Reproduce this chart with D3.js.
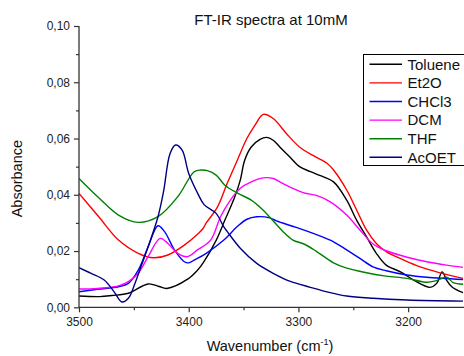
<!DOCTYPE html>
<html>
<head>
<meta charset="utf-8">
<script src="https://cdn.jsdelivr.net/npm/d3@7"></script>
<style>
  html, body { margin: 0; padding: 0; background: #fff; }
  svg { display: block; font-family: "Liberation Sans", Arial, sans-serif; }
</style>
</head>
<body>
<svg id="chart" width="464" height="356"></svg>
<script>
// ---------- data (wavenumber cm-1, absorbance) ----------
const seriesNames = ["Toluene", "Et2O", "CHCl3", "DCM", "THF", "AcOET"];
const seriesColors = ["#000000", "#ff0000", "#0000ff", "#ff00ff", "#008000", "#000080"];

const tolueneW = [3500,3481,3470,3455,3437,3427,3420,3401,3392,3387,3375,3367,3358,3353,3349,3343,3335,3329,3323,3317,3308,3299,3289,3280,3268,3256,3247,3238,3229,3220,3207,3195,3180,3174,3169,3165,3160,3150];
const tolueneA = [0.0040,0.0038,0.0042,0.0050,0.0083,0.0074,0.0067,0.0100,0.0132,0.0157,0.0238,0.0310,0.0393,0.0452,0.0523,0.0570,0.0597,0.0604,0.0594,0.0570,0.0535,0.0500,0.0482,0.0468,0.0446,0.0381,0.0310,0.0251,0.0192,0.0150,0.0126,0.0097,0.0071,0.0085,0.0126,0.0097,0.0072,0.0052];

const et2oW = [3500,3482,3464,3446,3432,3419,3404,3391,3387,3384,3374,3365,3356,3347,3340,3332,3323,3311,3299,3286,3274,3268,3256,3247,3238,3229,3220,3204,3189,3174,3159,3150];
const et2oA = [0.0405,0.0322,0.0239,0.0192,0.0176,0.0186,0.0221,0.0263,0.0280,0.0300,0.0355,0.0440,0.0520,0.0600,0.0645,0.0686,0.0671,0.0618,0.0570,0.0538,0.0512,0.0488,0.0417,0.0346,0.0275,0.0227,0.0198,0.0168,0.0144,0.0126,0.0111,0.0103];

const chcl3W = [3500,3483,3464,3455,3446,3437,3428,3422,3413,3404,3400,3395,3384,3368,3356,3347,3338,3326,3320,3302,3280,3268,3256,3244,3232,3220,3201,3183,3150];
const chcl3A = [0.0055,0.0064,0.0073,0.0085,0.0132,0.0215,0.0290,0.0269,0.0204,0.0162,0.0158,0.0168,0.0192,0.0239,0.0286,0.0313,0.0322,0.0318,0.0307,0.0284,0.0253,0.0233,0.0204,0.0174,0.0144,0.0130,0.0115,0.0107,0.0099];

const dcmW = [3500,3483,3464,3455,3446,3437,3426,3419,3410,3401,3392,3380,3371,3362,3353,3343,3332,3323,3317,3305,3295,3283,3271,3256,3244,3232,3220,3201,3183,3165,3150];
const dcmA = [0.0065,0.0067,0.0076,0.0091,0.0121,0.0180,0.0245,0.0227,0.0192,0.0180,0.0204,0.0239,0.0322,0.0381,0.0423,0.0446,0.0460,0.0458,0.0446,0.0423,0.0407,0.0397,0.0375,0.0328,0.0275,0.0225,0.0201,0.0178,0.0162,0.0150,0.0142];

const thfW = [3500,3483,3464,3446,3428,3410,3395,3389,3383,3375,3367,3355,3343,3334,3325,3314,3305,3295,3284,3268,3256,3238,3220,3201,3183,3174,3165,3159,3150];
const thfA = [0.0458,0.0393,0.0328,0.0302,0.0322,0.0393,0.0482,0.0488,0.0486,0.0470,0.0434,0.0405,0.0381,0.0352,0.0316,0.0269,0.0239,0.0225,0.0200,0.0158,0.0139,0.0123,0.0111,0.0103,0.0089,0.0095,0.0107,0.0088,0.0082];

const acoetW = [3500,3489,3477,3468,3461,3455,3449,3443,3437,3428,3423,3417,3412,3406,3400,3391,3386,3375,3368,3365,3353,3338,3323,3308,3289,3271,3256,3232,3201,3150];
const acoetA = [0.0141,0.0121,0.0097,0.0055,0.0019,0.0032,0.0085,0.0150,0.0215,0.0322,0.0410,0.0547,0.0577,0.0559,0.0476,0.0399,0.0365,0.0334,0.0286,0.0270,0.0210,0.0156,0.0121,0.0093,0.0071,0.0052,0.0040,0.0032,0.0026,0.0022];

const seriesW = [tolueneW, et2oW, chcl3W, dcmW, thfW, acoetW];
const seriesA = [tolueneA, et2oA, chcl3A, dcmA, thfA, acoetA];

const xTickValues = [3500, 3400, 3300, 3200];
const xMinorValues = [3450, 3350, 3250];
const yTickValues = [0.00, 0.02, 0.04, 0.06, 0.08, 0.10];
const yMinorValues = [0.01, 0.03, 0.05, 0.07, 0.09];

const titleText = "FT-IR spectra at 10mM";
const yLabelText = "Absorbance";

// ---------- layout ----------
const svg = d3.select("#chart");
const pLeft = 79, pRight = 463, pTop = 26, pBottom = 307.3;

const x = d3.scaleLinear().domain([3500, 3150]).range([pLeft, pRight]);
const y = d3.scaleLinear().domain([0, 0.10]).range([pBottom, pTop]);

const fmt = d => d3.format(".2f")(d).replace(".", ",");

// clip
svg.append("clipPath").attr("id", "clip")
  .append("rect").attr("x", pLeft).attr("y", pTop - 5).attr("width", pRight - pLeft + 1).attr("height", pBottom - pTop + 5);

// curves
const line = d3.line()
  .x(d => x(d[0]))
  .y(d => y(d[1]))
  .curve(d3.curveCatmullRom.alpha(0.5));

const g = svg.append("g").attr("clip-path", "url(#clip)");
seriesNames.forEach((name, i) => {
  const pts = seriesW[i].map((w, j) => [w, seriesA[i][j]]);
  g.append("path")
    .datum(pts)
    .attr("fill", "none")
    .attr("stroke", seriesColors[i])
    .attr("stroke-width", 1.4)
    .attr("stroke-linejoin", "round")
    .attr("d", line);
});

// axes
const axisColor = "#333";
const yAxis = svg.append("g").attr("transform", `translate(${pLeft},0)`)
  .call(d3.axisLeft(y).tickValues(yTickValues).tickFormat(fmt).tickSize(5).tickPadding(4));
const yMinor = svg.append("g").attr("transform", `translate(${pLeft},0)`)
  .call(d3.axisLeft(y).tickValues(yMinorValues).tickFormat("").tickSize(3));
const xAxis = svg.append("g").attr("transform", `translate(0,${pBottom})`)
  .call(d3.axisBottom(x).tickValues(xTickValues).tickFormat(d3.format("d")).tickSize(5).tickPadding(5));
const xMinor = svg.append("g").attr("transform", `translate(0,${pBottom})`)
  .call(d3.axisBottom(x).tickValues(xMinorValues).tickFormat("").tickSize(3));

[yAxis, yMinor, xAxis, xMinor].forEach(a => {
  a.select(".domain").attr("stroke", axisColor).attr("stroke-width", 1.3);
  a.selectAll(".tick line").attr("stroke", axisColor).attr("stroke-width", 1.2);
  a.selectAll(".tick text").attr("fill", "#222").style("font-size", "12px")
    .style("font-family", '"Liberation Sans", Arial, sans-serif');
});
yMinor.select(".domain").remove();
xMinor.select(".domain").remove();
yAxis.select(".domain").attr("d", `M0,${pTop}V${pBottom}`);
xAxis.select(".domain").attr("d", `M${pLeft},0H${pRight + 1}`);

// title
svg.append("text")
  .attr("x", 271).attr("y", 25)
  .attr("text-anchor", "middle")
  .style("font-size", "15px").attr("fill", "#111")
  .text(titleText);

// y label
svg.append("text")
  .attr("transform", `translate(22,${(pTop + pBottom) / 2 + 12}) rotate(-90)`)
  .attr("text-anchor", "middle")
  .style("font-size", "14.5px").attr("fill", "#111")
  .text(yLabelText);

// x label with superscript
const xl = svg.append("text")
  .attr("x", 270).attr("y", 351)
  .attr("text-anchor", "middle")
  .style("font-size", "14.5px").attr("fill", "#111");
xl.append("tspan").text("Wavenumber (cm");
xl.append("tspan").attr("dy", -6).style("font-size", "9px").text("-1");
xl.append("tspan").attr("dy", 6).text(")");

// legend
const lg = svg.append("g");
lg.append("rect")
  .attr("x", 363.5).attr("y", 54.5).attr("width", 110).attr("height", 111)
  .attr("fill", "#fff").attr("stroke", "#000").attr("stroke-width", 1);
seriesNames.forEach((name, i) => {
  const cy = 64.3 + i * 18.6;
  lg.append("line")
    .attr("x1", 369.5).attr("x2", 402).attr("y1", cy).attr("y2", cy)
    .attr("stroke", seriesColors[i]).attr("stroke-width", 1.4);
  lg.append("text")
    .attr("x", 407.5).attr("y", cy + 5.3)
    .style("font-size", "15px").attr("fill", "#111")
    .text(name);
});
</script>
</body>
</html>
